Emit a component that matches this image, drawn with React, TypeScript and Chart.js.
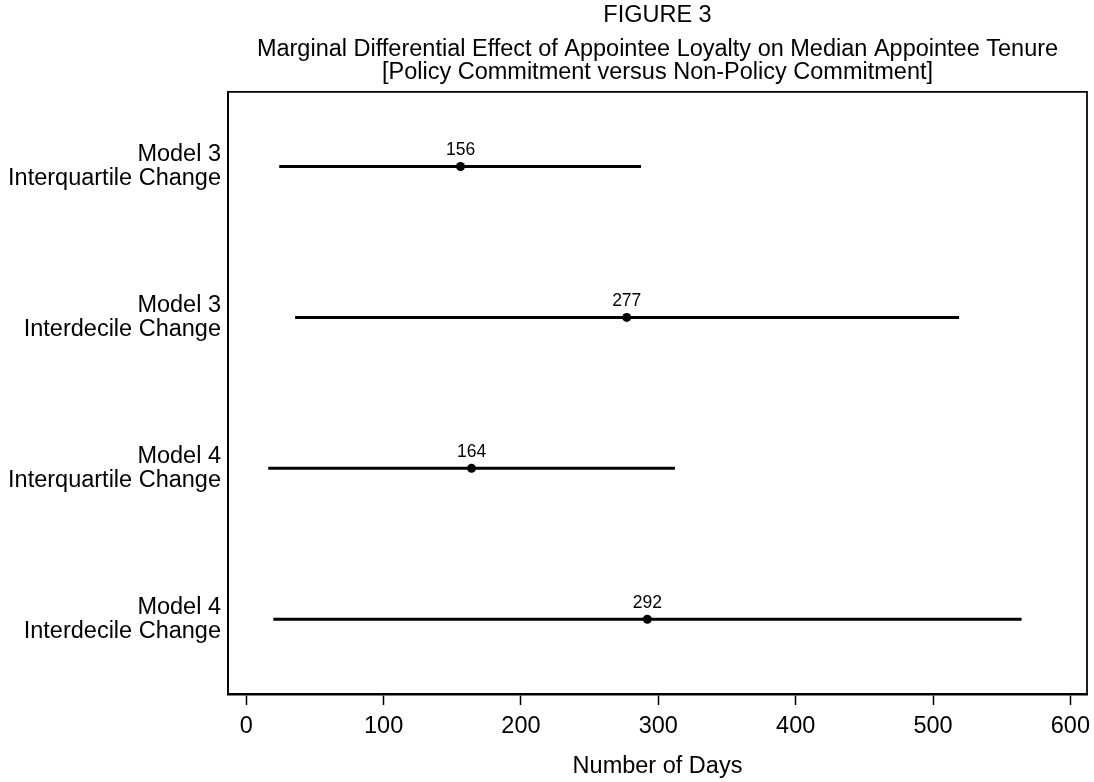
import React, { useEffect, useRef } from "react";
import { Chart, registerables } from "chart.js";

Chart.register(...registerables);

const rowLabels: string[][] = [
  ["Model 3", "Interquartile Change"],
  ["Model 3", "Interdecile Change"],
  ["Model 4", "Interquartile Change"],
  ["Model 4", "Interdecile Change"],
];
const estimates: number[] = [156, 277, 164, 292];
const lowerBounds: number[] = [24, 35.5, 16, 19.7];
const upperBounds: number[] = [287.4, 518.9, 312.1, 564.5];
const xTicks: number[] = [0, 100, 200, 300, 400, 500, 600];

const FONT = "'Liberation Sans', Arial, Helvetica, sans-serif";
const FS = 23.5;

const frameAndLabels = {
  id: "frameAndLabels",
  afterDatasetsDraw(chart: any) {
    const { ctx, chartArea } = chart;
    ctx.save();
    ctx.strokeStyle = "#000";
    ctx.lineWidth = 1.75;
    ctx.beginPath();
    ctx.moveTo(chartArea.left, chartArea.bottom);
    ctx.lineTo(chartArea.left, chartArea.top);
    ctx.lineTo(chartArea.right, chartArea.top);
    ctx.lineTo(chartArea.right, chartArea.bottom);
    ctx.stroke();
    const idx = chart.data.datasets.length - 1;
    const meta = chart.getDatasetMeta(idx);
    ctx.fillStyle = "#000";
    ctx.font = `17.5px ${FONT}`;
    ctx.textAlign = "center";
    ctx.textBaseline = "middle";
    meta.data.forEach((el: any, i: number) => {
      ctx.fillText(String(estimates[i]), el.x, el.y - 16);
    });
    ctx.restore();
  },
};

export default function App() {
  const ref = useRef<HTMLCanvasElement | null>(null);
  useEffect(() => {
    if (!ref.current) return;
    const whiskers = rowLabels.map((_, i) => ({
      type: "scatter" as const,
      data: [
        { x: lowerBounds[i], y: i + 1 },
        { x: upperBounds[i], y: i + 1 },
      ],
      showLine: true,
      borderColor: "#000",
      borderWidth: 3,
      pointRadius: 0,
      pointHoverRadius: 0,
    }));
    const points = {
      type: "scatter" as const,
      data: estimates.map((v, i) => ({ x: v, y: i + 1 })),
      showLine: false,
      pointRadius: 4.5,
      pointBackgroundColor: "#000",
      pointBorderColor: "#000",
      pointBorderWidth: 0,
    };
    const chart = new Chart(ref.current, {
      type: "scatter",
      data: { datasets: [...whiskers, points] as any },
      options: {
        animation: false,
        responsive: false,
        layout: { padding: { left: 0, right: 7, top: 0, bottom: 0 } },
        plugins: {
          legend: { display: false },
          tooltip: { enabled: false },
          title: {
            display: true,
            text: "FIGURE 3",
            color: "#000",
            fullSize: false,
            font: { family: FONT, size: FS, weight: "normal", lineHeight: 1.2 },
            padding: { top: 1, bottom: 9 },
          },
          subtitle: {
            display: true,
            text: [
              "Marginal Differential Effect of Appointee Loyalty on Median Appointee Tenure",
              "[Policy Commitment versus Non-Policy Commitment]",
            ],
            color: "#000",
            fullSize: false,
            font: { family: FONT, size: FS, weight: "normal", lineHeight: 0.98 },
            padding: { top: 0, bottom: 7.5 },
          },
        },
        scales: {
          x: {
            type: "linear",
            min: -13.3,
            max: 612.1,
            afterBuildTicks: (scale: any) => {
              scale.ticks = xTicks.map((v) => ({ value: v }));
            },
            afterFit: (scale: any) => {
              scale.height = 88;
              scale.paddingLeft = 0;
              scale.paddingRight = 0;
            },
            grid: {
              display: true,
              drawOnChartArea: false,
              drawTicks: true,
              tickLength: 11,
              tickColor: "#000",
              tickWidth: 1.5,
            },
            border: { display: true, color: "#000", width: 2.5 },
            ticks: {
              color: "#000",
              font: { family: FONT, size: FS },
              padding: 7,
              maxRotation: 0,
              autoSkip: false,
              callback: (v: any) => String(v),
            },
            title: {
              display: true,
              text: "Number of Days",
              color: "#000",
              font: { family: FONT, size: FS },
              padding: { top: 0, bottom: 1 },
            },
          },
          y: {
            type: "linear",
            min: 0.505,
            max: 4.495,
            reverse: true,
            afterBuildTicks: (scale: any) => {
              scale.ticks = rowLabels.map((_, i) => ({ value: i + 1 }));
            },
            afterFit: (scale: any) => {
              scale.width = 228;
              scale.paddingTop = 0;
              scale.paddingBottom = 0;
            },
            grid: { display: false, drawTicks: false },
            border: { display: true, color: "#000", width: 1.75 },
            ticks: {
              color: "#000",
              font: { family: FONT, size: FS, lineHeight: 1.02 },
              padding: 7,
              autoSkip: false,
              callback: (v: any) => rowLabels[Number(v) - 1] ?? "",
            },
          },
        },
      },
      plugins: [frameAndLabels],
    });
    return () => chart.destroy();
  }, []);
  return (
    <div style={{ position: "fixed", left: 0, top: 0, width: 1094, height: 782, background: "#fff" }}>
      <canvas ref={ref} width={1094} height={782} />
    </div>
  );
}
